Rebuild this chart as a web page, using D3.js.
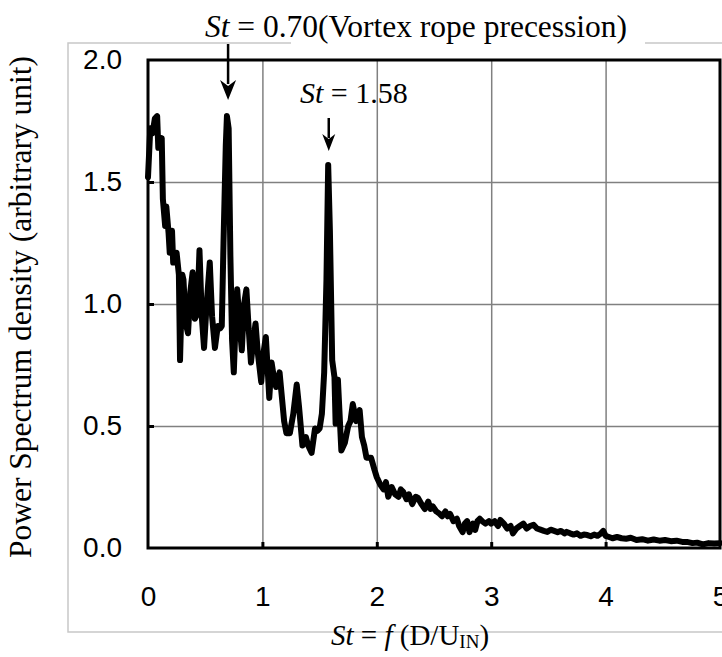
<!DOCTYPE html>
<html>
<head>
<meta charset="utf-8">
<script src="https://cdn.jsdelivr.net/npm/d3@7"></script>
<style>
  body { margin: 0; background: #fff; }
  svg { display: block; }
</style>
</head>
<body>
<svg width="722" height="657"></svg>
<script>
// Strouhal number (x) and power spectrum density (y)
const stValues = [
    0.00, 0.02, 0.04, 0.06, 0.08, 0.09, 0.11, 0.12, 0.13, 0.15, 0.16, 0.18, 0.19, 0.21, 0.22, 0.24, 0.25, 0.27, 0.28, 0.30,
    0.31, 0.33, 0.35, 0.37, 0.39, 0.41, 0.43, 0.45, 0.47, 0.49, 0.51, 0.54, 0.56, 0.585, 0.61, 0.63, 0.645, 0.66, 0.68, 0.69,
    0.705, 0.72, 0.735, 0.75, 0.77, 0.78, 0.80, 0.82, 0.84, 0.86, 0.88, 0.90, 0.92, 0.94, 0.96, 0.99, 1.01, 1.03, 1.05, 1.06,
    1.08, 1.10, 1.12, 1.15, 1.17, 1.19, 1.21, 1.24, 1.27, 1.30, 1.32, 1.35, 1.38, 1.40, 1.43, 1.46, 1.48, 1.50, 1.52, 1.54,
    1.56, 1.575, 1.59, 1.61, 1.63, 1.64, 1.66, 1.69, 1.72, 1.75, 1.77, 1.79, 1.82, 1.85, 1.87, 1.89, 1.91, 1.95, 1.98, 2.00,
    2.03, 2.06, 2.08, 2.10, 2.13, 2.16, 2.19, 2.21, 2.23, 2.26, 2.28, 2.31, 2.34, 2.36, 2.39, 2.42, 2.45, 2.47, 2.49, 2.52,
    2.55, 2.57, 2.60, 2.62, 2.64, 2.67, 2.70, 2.72, 2.75, 2.77, 2.79, 2.81, 2.84, 2.86, 2.88, 2.90, 2.92, 2.95, 2.98, 3.00,
    3.03, 3.06, 3.08, 3.11, 3.14, 3.17, 3.19, 3.22, 3.25, 3.28, 3.31, 3.34, 3.37, 3.40, 3.43, 3.46, 3.49, 3.52, 3.55, 3.58,
    3.61, 3.64, 3.66, 3.69, 3.72, 3.75, 3.78, 3.81, 3.84, 3.87, 3.90, 3.93, 3.96, 3.98, 4.00, 4.03, 4.06, 4.10, 4.14, 4.18,
    4.22, 4.27, 4.32, 4.37, 4.42, 4.47, 4.52, 4.57, 4.62, 4.67, 4.71, 4.76, 4.80, 4.85, 4.90, 4.95, 5.00
];
const psdValues = [
    1.52, 1.72, 1.70, 1.76, 1.77, 1.64, 1.66, 1.68, 1.43, 1.32, 1.40, 1.29, 1.21, 1.30, 1.17, 1.20, 1.21, 1.12, 0.77, 1.12,
    1.10, 0.92, 0.88, 1.05, 1.13, 0.94, 0.96, 1.22, 0.95, 0.82, 0.98, 1.17, 0.95, 0.82, 0.91, 0.90, 0.91, 1.25, 1.65, 1.77,
    1.72, 1.20, 0.85, 0.72, 0.98, 1.06, 0.92, 0.81, 1.00, 1.06, 0.90, 0.76, 0.85, 0.92, 0.80, 0.68, 0.80, 0.865, 0.70, 0.615,
    0.76, 0.70, 0.66, 0.72, 0.62, 0.52, 0.47, 0.47, 0.55, 0.67, 0.58, 0.42, 0.455, 0.42, 0.39, 0.49, 0.48, 0.49, 0.55, 0.72,
    1.10, 1.57, 1.30, 0.77, 0.70, 0.51, 0.69, 0.40, 0.43, 0.50, 0.52, 0.59, 0.52, 0.565, 0.455, 0.42, 0.37, 0.37, 0.32, 0.29,
    0.26, 0.24, 0.27, 0.21, 0.25, 0.22, 0.21, 0.24, 0.23, 0.20, 0.22, 0.18, 0.21, 0.205, 0.18, 0.16, 0.19, 0.16, 0.17, 0.15,
    0.14, 0.13, 0.15, 0.13, 0.14, 0.11, 0.12, 0.09, 0.065, 0.10, 0.11, 0.065, 0.10, 0.074, 0.11, 0.12, 0.11, 0.10, 0.11, 0.10,
    0.11, 0.09, 0.115, 0.10, 0.08, 0.09, 0.06, 0.08, 0.09, 0.10, 0.08, 0.09, 0.095, 0.08, 0.075, 0.07, 0.066, 0.075, 0.07, 0.065,
    0.07, 0.06, 0.066, 0.06, 0.055, 0.06, 0.05, 0.055, 0.053, 0.048, 0.055, 0.05, 0.06, 0.07, 0.05, 0.045, 0.04, 0.045, 0.04, 0.038,
    0.042, 0.033, 0.036, 0.03, 0.035, 0.03, 0.033, 0.028, 0.03, 0.025, 0.025, 0.02, 0.022, 0.015, 0.02, 0.018, 0.02
];
const xTicks = [0, 1, 2, 3, 4, 5];
const yTicks = [0, 0.5, 1.0, 1.5, 2.0];
const peaks = [0.70, 1.58];

const svg = d3.select('svg');
svg.selectAll('*').remove();

const plotLeft = 148, plotRight = 720, plotTop = 60, plotBottom = 548;
const serif = '"Liberation Serif", "Times New Roman", serif';
const sans = '"Liberation Sans", Arial, sans-serif';

const xScale = d3.scaleLinear().domain([0, 5]).range([plotLeft, plotRight]);
const yScale = d3.scaleLinear().domain([0, 2]).range([plotBottom, plotTop]);

// light outer frame of the chart area, broken where the top note sits
svg.append('path')
    .attr('d', 'M291,43 H68 V632 H740 M645,43 H740')
    .attr('fill', 'none')
    .attr('stroke', '#c8c8c8')
    .attr('stroke-width', 1.5);

// grid
svg.append('g')
    .attr('transform', `translate(0, ${plotBottom})`)
    .call(d3.axisBottom(xScale).tickValues(xTicks.slice(1, -1)).tickSize(-(plotBottom - plotTop)).tickFormat(''))
    .call(g => g.select('.domain').remove())
    .selectAll('line').attr('stroke', '#808080').attr('stroke-width', 1.5);

svg.append('g')
    .attr('transform', `translate(${plotLeft}, 0)`)
    .call(d3.axisLeft(yScale).tickValues(yTicks.slice(1, -1)).tickSize(-(plotRight - plotLeft)).tickFormat(''))
    .call(g => g.select('.domain').remove())
    .selectAll('line').attr('stroke', '#808080').attr('stroke-width', 1.5);

// small inward ticks
svg.append('g')
    .attr('transform', `translate(0, ${plotBottom})`)
    .call(d3.axisBottom(xScale).tickValues(xTicks.slice(1, -1)).tickSize(-6).tickFormat(''))
    .call(g => g.select('.domain').remove())
    .selectAll('line').attr('stroke', '#000').attr('stroke-width', 3);

svg.append('g')
    .attr('transform', `translate(${plotLeft}, 0)`)
    .call(d3.axisLeft(yScale).tickValues(yTicks.slice(1, -1)).tickSize(-6).tickFormat(''))
    .call(g => g.select('.domain').remove())
    .selectAll('line').attr('stroke', '#000').attr('stroke-width', 3);

// tick labels
const xAxis = svg.append('g')
    .attr('transform', `translate(0, ${plotBottom})`)
    .call(d3.axisBottom(xScale).tickValues(xTicks).tickSize(0).tickPadding(38).tickFormat(d3.format('d')));
xAxis.select('.domain').remove();
xAxis.selectAll('text').attr('font-family', sans).attr('font-size', 28).attr('fill', '#000');

const yAxis = svg.append('g')
    .attr('transform', `translate(${plotLeft}, 0)`)
    .call(d3.axisLeft(yScale).tickValues(yTicks).tickSize(0).tickPadding(26).tickFormat(d3.format('.1f')));
yAxis.select('.domain').remove();
yAxis.selectAll('text').attr('font-family', sans).attr('font-size', 28).attr('fill', '#000');

// the spectrum
const points = stValues.map((s, i) => ({st: s, psd: psdValues[i]}));
const line = d3.line()
    .x(d => xScale(d.st))
    .y(d => yScale(d.psd));

svg.append('path')
    .attr('d', line(points))
    .attr('fill', 'none')
    .attr('stroke', '#000')
    .attr('stroke-width', 6)
    .attr('stroke-linejoin', 'round')
    .attr('stroke-linecap', 'round');

// plot frame
svg.append('rect')
    .attr('x', plotLeft).attr('y', plotTop)
    .attr('width', plotRight - plotLeft).attr('height', plotBottom - plotTop)
    .attr('fill', 'none')
    .attr('stroke', '#000')
    .attr('stroke-width', 3);

// top annotation
const title = svg.append('text')
    .attr('x', 416).attr('y', 37)
    .attr('text-anchor', 'middle')
    .attr('font-family', serif)
    .attr('font-size', 31.5);
title.append('tspan').attr('font-style', 'italic').text('St');
title.append('tspan').text(' = 0.70(Vortex rope precession)');

const note = svg.append('text')
    .attr('x', 300).attr('y', 103)
    .attr('font-family', serif)
    .attr('font-size', 30);
note.append('tspan').attr('font-style', 'italic').text('St');
note.append('tspan').text(' = 1.58');

// arrows
function arrow(x, y0, y1, w, h) {
    svg.append('line')
        .attr('x1', x).attr('x2', x)
        .attr('y1', y0).attr('y2', y1 - h + 4)
        .attr('stroke', '#000').attr('stroke-width', 2.5);
    svg.append('path')
        .attr('d', `M${x - w / 2},${y1 - h} L${x},${y1 - h * 0.7} L${x + w / 2},${y1 - h} L${x},${y1} Z`)
        .attr('fill', '#000');
}
arrow(xScale(peaks[0]), 44, 100, 16, 20);
arrow(xScale(peaks[1]), 118, 151, 13, 17);

// axis titles
svg.append('text')
    .attr('transform', 'translate(31, 307) rotate(-90)')
    .attr('text-anchor', 'middle')
    .attr('font-family', serif)
    .attr('font-size', 31.5)
    .text('Power Spectrum density (arbitrary unit)');

const xTitle = svg.append('text')
    .attr('x', 331).attr('y', 645)
    .attr('font-family', serif)
    .attr('font-size', 29);
xTitle.append('tspan').attr('font-style', 'italic').text('St');
xTitle.append('tspan').text(' = ');
xTitle.append('tspan').attr('font-style', 'italic').text('f');
xTitle.append('tspan').text(' (D/U');
xTitle.append('tspan').attr('font-size', 19).attr('dy', 3).text('IN');
xTitle.append('tspan').attr('dy', -3).text(')');
</script>
</body>
</html>
